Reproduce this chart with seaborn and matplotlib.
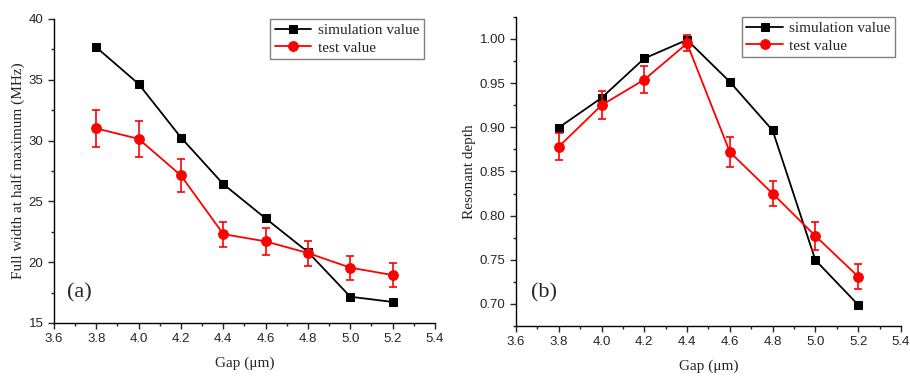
import seaborn as sns
import matplotlib.pyplot as plt
from matplotlib.ticker import MultipleLocator
import pandas as pd

gap = [3.8, 4.0, 4.2, 4.4, 4.6, 4.8, 5.0, 5.2]

# (a) full width at half maximum (MHz)
fwhm_sim = [37.67, 34.66, 30.25, 26.42, 23.6, 20.83, 17.16, 16.73]
fwhm_test = [31.0, 30.14, 27.13, 22.31, 21.71, 20.75, 19.55, 18.94]
fwhm_err = [1.53, 1.51, 1.35, 1.03, 1.1, 1.03, 0.99, 0.99]

# (b) resonant depth
depth_sim = [0.8996, 0.9333, 0.978, 0.999, 0.9515, 0.8966, 0.7496, 0.699]
depth_test = [0.878, 0.925, 0.954, 0.995, 0.872, 0.825, 0.777, 0.731]
depth_err = [0.0155, 0.0157, 0.015, 0.009, 0.0167, 0.0146, 0.0157, 0.0146]

sns.set_style("ticks")
serif = ["Liberation Serif", "DejaVu Serif"]
plt.rcParams["font.family"] = ["Liberation Sans", "DejaVu Sans"]
plt.rcParams["xtick.labelsize"] = 9.5
plt.rcParams["ytick.labelsize"] = 9.5
plt.rcParams["xtick.direction"] = "out"
plt.rcParams["ytick.direction"] = "out"

fig = plt.figure(figsize=(9.1, 3.76), dpi=100)
ax1 = fig.add_axes([0.0593, 0.141, 0.4187, 0.8085])
ax2 = fig.add_axes([0.567, 0.133, 0.423, 0.822])


def panel(ax, sim, test, err, ylim, ymaj, ylabel, tag, tagpos, legx):
    df = pd.DataFrame({"gap": gap, "sim": sim, "test": test})
    sns.lineplot(data=df, x="gap", y="sim", ax=ax, color="black", marker="s",
                 markersize=5.5, markeredgecolor="black", linewidth=1.3,
                 label="simulation value")
    sns.lineplot(data=df, x="gap", y="test", ax=ax, color="red", marker="o",
                 markersize=7, markeredgecolor="red", linewidth=1.3,
                 label="test value")
    ax.errorbar(gap, test, yerr=err, fmt="none", ecolor="red", elinewidth=1.2,
                capsize=3, capthick=1.2)
    ax.set_xlim(3.6, 5.4)
    ax.set_ylim(*ylim)
    ax.xaxis.set_major_locator(MultipleLocator(0.2))
    ax.xaxis.set_minor_locator(MultipleLocator(0.1))
    ax.yaxis.set_major_locator(MultipleLocator(ymaj))
    ax.yaxis.set_minor_locator(MultipleLocator(ymaj / 2))
    ax.tick_params(which="major", length=4, width=1)
    ax.tick_params(which="minor", length=2.5, width=1)
    sns.despine(ax=ax)
    for s in ["left", "bottom"]:
        ax.spines[s].set_linewidth(1)
        ax.spines[s].set_color("black")
    ax.set_xlabel("Gap (\u03bcm)", family=serif, fontsize=11, labelpad=8)
    ax.set_ylabel(ylabel, family=serif, fontsize=11, labelpad=3)
    ax.text(tagpos[0], tagpos[1], tag, transform=ax.transAxes, family=serif,
            fontsize=16, va="center", ha="left")
    leg = ax.legend(loc="upper right", bbox_to_anchor=(legx, 1.0),
                    prop={"family": serif, "size": 11}, fancybox=False,
                    edgecolor="gray", framealpha=1, handlelength=2.4,
                    borderaxespad=0, borderpad=0.3, labelspacing=0.25,
                    handletextpad=0.4)
    leg.get_frame().set_linewidth(1)


panel(ax1, fwhm_sim, fwhm_test, fwhm_err, (15, 40), 5,
      "Full width at half maximum (MHz)", "(a)", (0.035, 0.1), 0.97)
panel(ax2, depth_sim, depth_test, depth_err, (0.675, 1.025), 0.05,
      "Resonant depth", "(b)", (0.04, 0.107), 0.985)
ax2.yaxis.set_major_formatter(plt.FormatStrFormatter("%.2f"))

fig.savefig("out.png", dpi=100)
